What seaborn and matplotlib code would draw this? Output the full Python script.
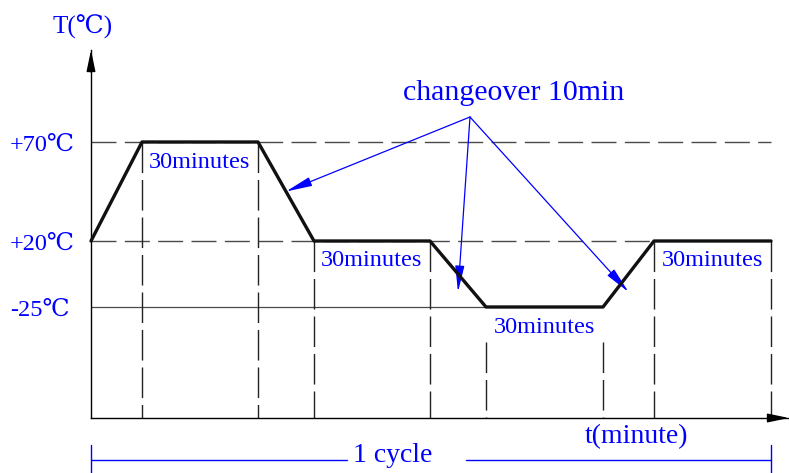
import numpy as np
import matplotlib
matplotlib.use("Agg")
import matplotlib.pyplot as plt
import matplotlib.transforms as mtransforms
from matplotlib.lines import Line2D
import seaborn as sns

# ---------------- data ----------------
times = [0, 10, 40, 50, 80, 90, 120, 130, 160]          # minutes
temps = [20, 70, 70, 20, 20, -25, -25, 20, 20]          # deg C
levels = [70, 20, -25]
level_labels = ["+70℃", "+20℃", "-25℃"]
dwell_label = "30minutes"
changeover_label = "changeover 10min"
y_title = "T(℃)"
x_title = "t(minute)"
cycle_label = "1 cycle"

# ---------------- layout (schematic, non-uniform axis scales) ----------------
W, H = 789, 473
T_PIX = [91, 142, 258, 314, 430, 486, 603, 654, 771]   # pixel x of the time anchors
LEV_ANCHORS = [-25, 20, 70]
LEV_PIX = [307, 241, 142]                              # pixel y (from top)


def piecewise(src, dst):
    src = np.asarray(src, float)
    dst = np.asarray(dst, float)
    s0 = (dst[1] - dst[0]) / (src[1] - src[0])
    s1 = (dst[-1] - dst[-2]) / (src[-1] - src[-2])

    def f(v):
        v = np.asarray(v, float)
        return np.where(v < src[0], dst[0] + (v - src[0]) * s0,
                        np.where(v > src[-1], dst[-1] + (v - src[-1]) * s1,
                                 np.interp(v, src, dst)))
    return f


fx = piecewise(times, T_PIX)
fx_inv = piecewise(T_PIX, times)
hts = [H - p for p in LEV_PIX]
fy = piecewise(LEV_ANCHORS, hts)
fy_inv = piecewise(hts, LEV_ANCHORS)

sns.set_style("white")
plt.rcParams["font.family"] = ["Liberation Serif", "DejaVu Serif"]

BLUE = "#0000ff"
GRAY = "#4a4a4a"

fig = plt.figure(figsize=(W / 100, H / 100), dpi=100)
ax_left, ax_bottom, ax_top = 91, 418, 50
ax = fig.add_axes([ax_left / W, (H - ax_bottom) / H, (W - ax_left) / W, (ax_bottom - ax_top) / H])
pix = mtransforms.Affine2D().scale(1 / W, -1 / H).translate(0, 1) + fig.transFigure

sns.lineplot(x=times, y=temps, ax=ax, sort=False, estimator=None,
             color="#111111", lw=2.4, clip_on=False, zorder=5)
ax.set_xscale("function", functions=(fx, fx_inv))
ax.set_yscale("function", functions=(fy, fy_inv))
ax.set_xlim(0, float(fx_inv(W)))
y0 = float(fy_inv(H - ax_bottom))
ax.set_ylim(y0, float(fy_inv(H - ax_top)))

for s in ["top", "right"]:
    ax.spines[s].set_visible(False)
for s in ["left", "bottom"]:
    ax.spines[s].set_color("black")
    ax.spines[s].set_linewidth(1.0)
ax.set_xticks([])
ax.set_yticks([])

vdash = (0, (22, 5))
hdash = (0, (18, 6))

# horizontal guides
ax.hlines(levels[0], times[0], times[-1], colors=GRAY, lw=1, linestyles=[hdash], clip_on=False)
ax.hlines(levels[1], times[0], times[7], colors=GRAY, lw=1, linestyles=[hdash], clip_on=False)
ax.hlines(levels[2], times[0], times[5], colors=GRAY, lw=0.9, clip_on=False)

# vertical guides (drawn top -> bottom so the dash pattern starts at the profile)
below_text = float(fy_inv(H - 342))
for t, T in zip(times[1:], temps[1:]):
    top = below_text if T == levels[2] else T
    ax.vlines(t, top, y0, colors="#222222", lw=1, linestyles=[vdash], clip_on=False)

# axis arrows
head = dict(arrowstyle="-|>,head_length=1.3,head_width=0.27", color="black",
            lw=1, mutation_scale=10, shrinkA=0, shrinkB=0)
ax.annotate("", xy=(91, 50), xytext=(91, 72), xycoords=pix, textcoords=pix, arrowprops=head)
ax.annotate("", xy=(789, 418), xytext=(768, 418), xycoords=pix, textcoords=pix, arrowprops=head)

# level labels (nudged 3 px down)
lab_tr = mtransforms.blended_transform_factory(pix, ax.transData) + \
    mtransforms.ScaledTranslation(0, -3 / 100, fig.dpi_scale_trans)
for lev, lab in zip(levels, level_labels):
    ax.text(10, lev, lab, transform=lab_tr, ha="left", va="center",
            color=BLUE, fontsize=17.5)

# dwell labels
for i in (1, 3, 5, 7):
    mid = (times[i] + times[i + 1]) / 2
    ax.annotate(dwell_label, xy=(mid, temps[i]), xytext=(0, -20),
                textcoords="offset pixels", ha="center", va="center",
                color=BLUE, fontsize=17.5, annotation_clip=False)

# changeover annotation
fig.text(403 / W, 1 - 93 / H, changeover_label, ha="left", va="center",
         color=BLUE, fontsize=21.5)
src = (470, 117)
for i, overshoot in ((2, 0), (4, 18), (6, 18)):
    mt = (times[i] + times[i + 1]) / 2
    mT = (temps[i] + temps[i + 1]) / 2
    # tip: ramp midpoint, pushed `overshoot` pixels further down on screen
    tip_T = float(fy_inv(fy(mT) - overshoot))
    ax.annotate("", xy=(mt, tip_T), xytext=src, textcoords=pix,
                annotation_clip=False,
                arrowprops=dict(arrowstyle="-|>,head_length=1.6,head_width=0.28",
                                color=BLUE, lw=0.9, mutation_scale=10,
                                shrinkA=0, shrinkB=0))

# axis titles
fig.text(83 / W, 1 - 27 / H, y_title, ha="center", va="center", color=BLUE, fontsize=18)
fig.text(585 / W, 1 - 437 / H, x_title, ha="left", va="center", color=BLUE, fontsize=20)

# 1 cycle bracket
btr = mtransforms.blended_transform_factory(ax.transData, pix)
yb = 460
for xa, xb in ((times[0], float(fx_inv(347))), (float(fx_inv(466)), times[-1])):
    fig.add_artist(Line2D([xa, xb], [yb, yb], transform=btr, color=BLUE, lw=1))
for t in (times[0], times[-1]):
    fig.add_artist(Line2D([t, t], [445, 473], transform=btr, color=BLUE, lw=1))
fig.text(353 / W, 1 - 455 / H, cycle_label, ha="left", va="center", color=BLUE, fontsize=20)

fig.savefig("out.png", dpi=100, facecolor="white")
